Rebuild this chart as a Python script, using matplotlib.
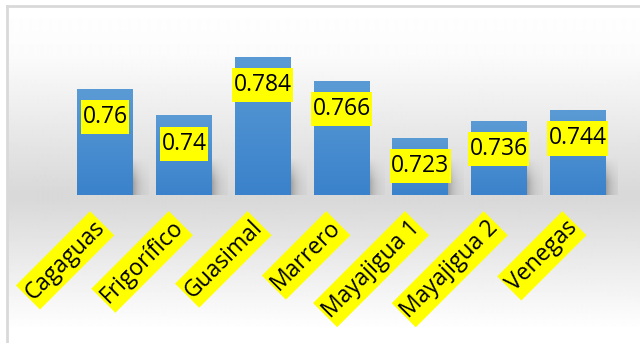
import numpy as np
import matplotlib
matplotlib.use("Agg")
import matplotlib.pyplot as plt
from matplotlib.colors import LinearSegmentedColormap
from matplotlib.path import Path

# datos
sitios = ["Cagaguas", "Frigorífico", "Guasimal", "Marrero",
          "Mayajigua 1", "Mayajigua 2", "Venegas"]
valores = [0.76, 0.74, 0.784, 0.766, 0.723, 0.736, 0.744]
etiquetas = ["0.76", "0.74", "0.784", "0.766", "0.723", "0.736", "0.744"]

y_min, y_max = 0.68, 0.80
W, H = 640, 343

plt.rcParams['font.family'] = ['Open Sans', 'DejaVu Sans']


# caja amarilla con mas relleno arriba/abajo que a los lados
def caja(x0, y0, width, height, mutation_size, px=0.06, py=0.22):
    dx = px * mutation_size
    dy = py * mutation_size
    x0, y0 = x0 - dx, y0 - dy
    x1, y1 = x0 + width + 2 * dx, y0 + height + 2 * dy
    return Path([(x0, y0), (x1, y0), (x1, y1), (x0, y1), (x0, y0)],
                closed=True)


fig = plt.figure(figsize=(W / 100, H / 100), dpi=100)

# fondo con degradado (blanco - gris - blanco)
bg = fig.add_axes([0, 0, 1, 1])
bg.axis('off')
yy = np.arange(H)
val = np.interp(yy, [6, 55, 192, 200, 330], [1.0, 0.985, 0.85, 0.85, 1.0])
grad = np.repeat(val[:, None], 2, axis=1)
bg.imshow(grad, cmap='gray', vmin=0, vmax=1, extent=[7, W, H, 0],
          aspect='auto', interpolation='bilinear')
bg.set_xlim(0, W)
bg.set_ylim(H, 0)
bg.plot([7, 7], [6, H], color='#d9d9d9', lw=2)
bg.plot([7, W], [6, 6], color='#d9d9d9', lw=2)

# ejes principales
left, right = 66, 617
top, bottom = 35.6, 195
ax = fig.add_axes([left / W, (H - bottom) / H, (right - left) / W, (bottom - top) / H])
ax.patch.set_alpha(0)
for s in ax.spines.values():
    s.set_visible(False)
ax.set_xticks([])
ax.set_yticks([])

x = np.arange(len(sitios))
ancho = 0.71
barras = ax.bar(x, np.array(valores) - y_min, bottom=y_min, width=ancho,
                color='#4a8fd2', zorder=3)

cmap_barra = LinearSegmentedColormap.from_list('barra', ['#3a82cb', '#5b9bd5'])
g = np.linspace(0, 1, 64)[:, None]

# sombra suave a la derecha de cada barra
sx = np.linspace(0, 1, 20)
sy = np.linspace(0, 1, 30)
alpha = (0.5 * np.exp(-2.5 * sx)[None, :]) * np.clip(sy[:, None] * 1.6, 0, 1)
sombra = np.zeros((30, 20, 4))
sombra[..., 0:3] = 0.4
sombra[..., 3] = alpha

for xi, b in zip(x, barras):
    x0, x1 = b.get_x(), b.get_x() + b.get_width()
    top_v = b.get_y() + b.get_height()
    im = ax.imshow(g, cmap=cmap_barra, extent=[x0, x1, y_min, top_v],
                   aspect='auto', origin='lower', zorder=4, interpolation='bilinear')
    im.set_clip_path(b)
    ax.imshow(sombra, extent=[x1, x1 + 0.2, y_min - 0.002, y_min + 0.028],
              aspect='auto', origin='upper', zorder=2, interpolation='bilinear')

ax.set_xlim(-0.5, len(sitios) - 0.5)
ax.set_ylim(y_min, y_max)

# etiquetas de valor
for xi, v, t in zip(x, valores, etiquetas):
    ax.annotate(t, xy=(xi, v), xytext=(0, -20.5), textcoords='offset points',
                ha='center', va='center', fontsize=16.5, color='black', zorder=6,
                bbox=dict(boxstyle=caja, fc='yellow', ec='none'))

# etiquetas de categoria
for xi, s in zip(x, sitios):
    ax.annotate(s, xy=(xi, 0), xycoords=('data', 'axes fraction'),
                xytext=(-3, -21), textcoords='offset points',
                ha='right', va='center', rotation=45, rotation_mode='anchor',
                fontsize=16.5, color='black', annotation_clip=False,
                bbox=dict(boxstyle=caja, fc='yellow', ec='none'))

fig.savefig('out.png', dpi=100)
